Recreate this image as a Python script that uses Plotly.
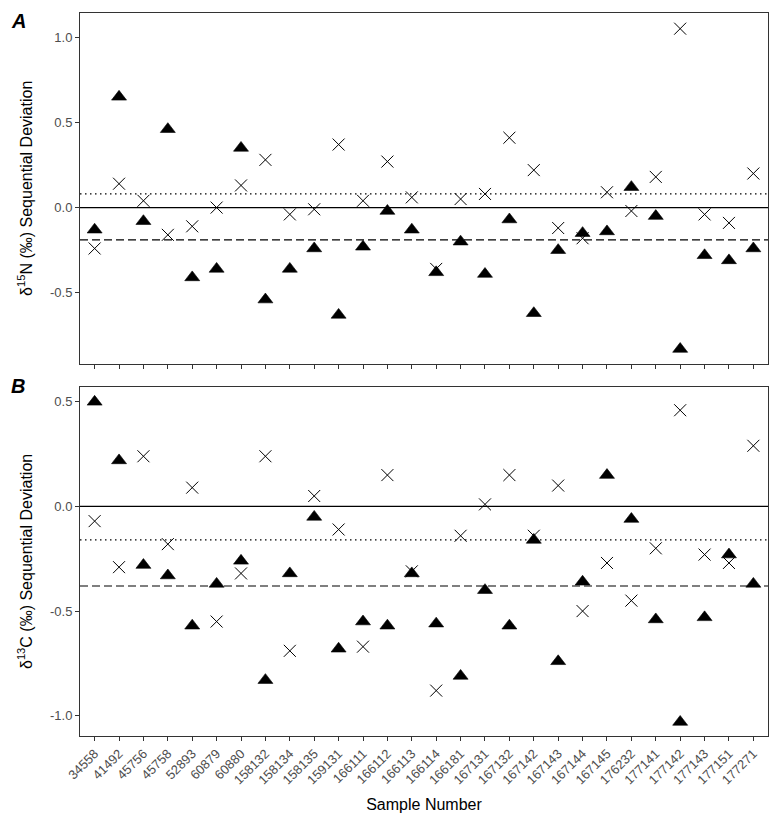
import plotly.graph_objects as go

samples = ["34558", "41492", "45756", "45758", "52893", "60879", "60880", "158132",
           "158134", "158135", "159131", "166111", "166112", "166113", "166114", "166181",
           "167131", "167132", "167142", "167143", "167144", "167145", "176232", "177141",
           "177142", "177143", "177151", "177271"]

# Panel A: d15N sequential deviation
n15_triangle = [-0.13, 0.65, -0.08, 0.46, -0.41, -0.36, 0.35, -0.54, -0.36, -0.24,
                -0.63, -0.23, -0.02, -0.13, -0.38, -0.20, -0.39, -0.07, -0.62, -0.25,
                -0.15, -0.14, 0.12, -0.05, -0.83, -0.28, -0.31, -0.24]
n15_cross = [-0.24, 0.14, 0.04, -0.16, -0.11, 0.00, 0.13, 0.28, -0.04, -0.01,
             0.37, 0.04, 0.27, 0.06, -0.36, 0.05, 0.08, 0.41, 0.22, -0.12,
             -0.18, 0.09, -0.02, 0.18, 1.05, -0.04, -0.09, 0.20]
n15_dotted = 0.08
n15_dashed = -0.19

# Panel B: d13C sequential deviation
c13_triangle = [0.50, 0.22, -0.28, -0.33, -0.57, -0.37, -0.26, -0.83, -0.32, -0.05,
                -0.68, -0.55, -0.57, -0.32, -0.56, -0.81, -0.40, -0.57, -0.16, -0.74,
                -0.36, 0.15, -0.06, -0.54, -1.03, -0.53, -0.23, -0.37]
c13_cross = [-0.07, -0.29, 0.24, -0.18, 0.09, -0.55, -0.32, 0.24, -0.69, 0.05,
             -0.11, -0.67, 0.15, -0.31, -0.88, -0.14, 0.01, 0.15, -0.14, 0.10,
             -0.50, -0.27, -0.45, -0.20, 0.46, -0.23, -0.27, 0.29]
c13_dotted = -0.16
c13_dashed = -0.38

FONT = "Liberation Sans, Arial, sans-serif"
tri = dict(symbol="triangle-up", size=13, color="black", line=dict(color="black", width=0.6))
crs = dict(symbol="x-thin-open", size=12, color="black", line=dict(color="black", width=1))

fig = go.Figure()
fig.add_trace(go.Scatter(x=samples, y=n15_triangle, mode="markers", marker=tri,
                         xaxis="x", yaxis="y", showlegend=False))
fig.add_trace(go.Scatter(x=samples, y=n15_cross, mode="markers", marker=crs,
                         xaxis="x", yaxis="y", showlegend=False))
fig.add_trace(go.Scatter(x=samples, y=c13_triangle, mode="markers", marker=tri,
                         xaxis="x2", yaxis="y2", showlegend=False))
fig.add_trace(go.Scatter(x=samples, y=c13_cross, mode="markers", marker=crs,
                         xaxis="x2", yaxis="y2", showlegend=False))

def hline(yval, yref, xref, dash):
    fig.add_shape(type="line", xref=xref + " domain", yref=yref, x0=0, x1=1, y0=yval, y1=yval,
                  line=dict(color="black", width=1.2, dash=dash), layer="below")

hline(0, "y", "x", "solid")
hline(n15_dotted, "y", "x", "1.5px,3.5px")
hline(n15_dashed, "y", "x", "8px,4px")
hline(0, "y2", "x2", "solid")
hline(c13_dotted, "y2", "x2", "1.5px,3.5px")
hline(c13_dashed, "y2", "x2", "8px,4px")

axis_common = dict(showgrid=False, zeroline=False, showline=True, mirror=True,
                   linecolor="#333333", linewidth=1, ticks="outside", ticklen=4,
                   tickcolor="#333333", tickwidth=1, automargin=False)

yfont = dict(family=FONT, size=13, color="#4D4D4D")
xr = [-0.6, len(samples) - 0.4]
fig.update_layout(
    width=773, height=810,
    margin=dict(l=72, r=13, t=5, b=82),
    paper_bgcolor="white", plot_bgcolor="white",
    font=dict(family=FONT),
    xaxis=dict(domain=[0, 1], anchor="y", type="category", range=xr,
               showticklabels=False, **axis_common),
    yaxis=dict(domain=[0.515, 1], anchor="x", range=[-0.916, 1.142], tickfont=yfont,
               tickvals=[-0.5, 0.0, 0.5, 1.0], ticktext=["-0.5", "0.0", "0.5", "1.0"],
               title=dict(text="δ<sup>15</sup>N (‰) Sequential Deviation",
                          font=dict(family=FONT, size=16, color="black"), standoff=13),
               **axis_common),
    xaxis2=dict(domain=[0, 1], anchor="y2", type="category", range=xr, tickangle=-45,
                tickfont=dict(family=FONT, size=13, color="#4D4D4D"),
                title=dict(text="Sample Number", font=dict(family=FONT, size=16, color="black"),
                           standoff=12),
                **axis_common),
    yaxis2=dict(domain=[0, 0.483], anchor="x2", range=[-1.097, 0.572], tickfont=yfont,
                tickvals=[-1.0, -0.5, 0.0, 0.5], ticktext=["-1.0", "-0.5", "0.0", "0.5"],
                title=dict(text="δ<sup>13</sup>C (‰) Sequential Deviation",
                           font=dict(family=FONT, size=16, color="black"), standoff=13),
                **axis_common),
    annotations=[
        dict(text="<b><i>A</i></b>", xref="paper", yref="paper", x=-0.09, y=1.0,
             xanchor="center", yanchor="top", yshift=5, showarrow=False,
             font=dict(family=FONT, size=20, color="black")),
        dict(text="<b><i>B</i></b>", xref="paper", yref="paper", x=-0.09, y=0.4845,
             xanchor="center", yanchor="middle", showarrow=False,
             font=dict(family=FONT, size=20, color="black")),
    ],
)

fig.write_html("out.html")
